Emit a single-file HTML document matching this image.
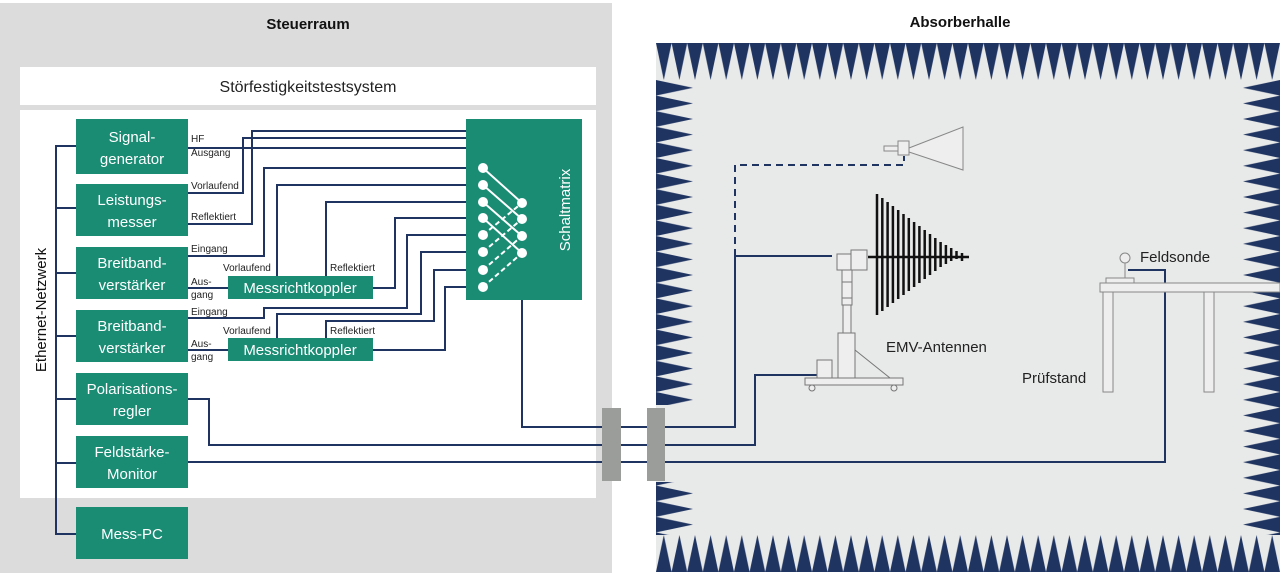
<!DOCTYPE html>
<html><head><meta charset="utf-8"><style>
html,body{margin:0;padding:0;background:#fff;}
svg{display:block;}
text{font-family:"Liberation Sans Narrow","Liberation Sans",sans-serif;}
</style></head><body>
<svg width="1280" height="577" viewBox="0 0 1280 577" xmlns="http://www.w3.org/2000/svg">
<defs>
<pattern id="pt" x="656" y="43" width="15.6" height="37" patternUnits="userSpaceOnUse"><polygon points="0,0 15.6,0 7.8,37" fill="#1f3461"/></pattern>
<pattern id="pb" x="656" y="535" width="15.6" height="37" patternUnits="userSpaceOnUse"><polygon points="0,37 7.8,0 15.6,37" fill="#1f3461"/></pattern>
<pattern id="pl" x="656" y="80" width="37" height="15.6" patternUnits="userSpaceOnUse"><polygon points="0,0 37,7.8 0,15.6" fill="#1f3461"/></pattern>
<pattern id="pr" x="1243" y="80" width="37" height="15.6" patternUnits="userSpaceOnUse"><polygon points="37,0 0,7.8 37,15.6" fill="#1f3461"/></pattern>
</defs>
<rect width="1280" height="577" fill="#fff"/>
<!-- Steuerraum -->
<rect x="0" y="3" width="612" height="570" fill="#dcdcdc"/>
<text x="308" y="29" font-size="15" font-weight="bold" text-anchor="middle" fill="#111">Steuerraum</text>
<rect x="20" y="67" width="576" height="38" fill="#fff"/>
<text x="308" y="92" font-size="16" text-anchor="middle" fill="#222">Störfestigkeitstestsystem</text>
<rect x="20" y="110" width="576" height="388" fill="#fff"/>

<!-- Absorberhalle -->
<text x="960" y="27" font-size="15" font-weight="bold" text-anchor="middle" fill="#111">Absorberhalle</text>
<rect x="656" y="43" width="624" height="529" fill="#e8e9e9"/>
<rect x="656" y="43" width="624" height="37" fill="url(#pt)"/>
<rect x="656" y="535" width="624" height="37" fill="url(#pb)"/>
<rect x="656" y="80" width="37" height="325" fill="url(#pl)"/>
<rect x="656" y="482" width="37" height="53" fill="url(#pl)"/>
<rect x="1243" y="80" width="37" height="455" fill="url(#pr)"/>

<!-- Ethernet -->
<g stroke="#1f3461" stroke-width="2" fill="none">
<path d="M76,146 H56 V534 H76 M56,208 H76 M56,273 H76 M56,336 H76 M56,399 H76 M56,463 H76"/>
</g>
<text transform="translate(46,310) rotate(-90)" font-size="15" text-anchor="middle" fill="#111">Ethernet-Netzwerk</text>

<!-- Wires -->
<g stroke="#1f3461" stroke-width="2" fill="none">
<path d="M188,148 H534 V203 H522"/>
<path d="M188,193 H243 V138 H542 V219 H522"/>
<path d="M188,224 H252 V131 H550 V236 H522"/>
<path d="M188,256 H264 V168 H483"/>
<path d="M277,276 V185 H483"/>
<path d="M326,276 V202 H483"/>
<path d="M373,288 H395 V218 H483"/>
<path d="M188,318 H264 V308 H407 V235 H483"/>
<path d="M277,338 V314 H421 V252 H483"/>
<path d="M326,338 V321 H434 V270 H483"/>
<path d="M373,350 H445 V287 H483"/>
<path d="M188,288 H228 M188,350 H228"/>
<path d="M522,253 V427 H735 V256 H832"/>
<path d="M188,399 H209 V445 H755 V375 H817"/>
<path d="M188,462 H1165 V270 H1128"/>
<path d="M735,256 V165 H904 V156" stroke-dasharray="7,5"/>
</g>

<!-- Green boxes -->
<g fill="#1a8c74">
<rect x="76" y="119" width="112" height="55"/>
<rect x="76" y="184" width="112" height="52"/>
<rect x="76" y="247" width="112" height="52"/>
<rect x="76" y="310" width="112" height="52"/>
<rect x="76" y="373" width="112" height="52"/>
<rect x="76" y="436" width="112" height="52"/>
<rect x="76" y="507" width="112" height="52"/>
<rect x="228" y="276" width="145" height="23"/>
<rect x="228" y="338" width="145" height="23"/>
<rect x="466" y="119" width="116" height="181"/>
</g>
<g fill="#fff" font-size="15" text-anchor="middle">
<text x="132" y="142">Signal-</text><text x="132" y="164">generator</text>
<text x="132" y="205">Leistungs-</text><text x="132" y="227">messer</text>
<text x="132" y="268">Breitband-</text><text x="132" y="290">verstärker</text>
<text x="132" y="331">Breitband-</text><text x="132" y="353">verstärker</text>
<text x="132" y="394">Polarisations-</text><text x="132" y="416">regler</text>
<text x="132" y="457">Feldstärke-</text><text x="132" y="479">Monitor</text>
<text x="132" y="539">Mess-PC</text>
<text x="300" y="293">Messrichtkoppler</text>
<text x="300" y="355">Messrichtkoppler</text>
<text transform="translate(570,210) rotate(-90)" text-anchor="middle">Schaltmatrix</text>
</g>
<g fill="#222" font-size="10">
<text x="191" y="142">HF</text><text x="191" y="156">Ausgang</text>
<text x="191" y="189">Vorlaufend</text><text x="191" y="220">Reflektiert</text>
<text x="191" y="252">Eingang</text>
<text x="191" y="285">Aus-</text><text x="191" y="298">gang</text>
<text x="223" y="271">Vorlaufend</text><text x="330" y="271">Reflektiert</text>
<text x="191" y="315">Eingang</text>
<text x="191" y="347">Aus-</text><text x="191" y="360">gang</text>
<text x="223" y="334">Vorlaufend</text><text x="330" y="334">Reflektiert</text>
</g>
<!-- matrix internals -->
<g stroke="#fff" stroke-width="2">
<line x1="483" y1="168" x2="522" y2="203"/><line x1="483" y1="185" x2="522" y2="219"/>
<line x1="483" y1="202" x2="522" y2="236"/><line x1="483" y1="218" x2="522" y2="253"/>
<g stroke-dasharray="5,3">
<line x1="483" y1="235" x2="522" y2="203"/><line x1="483" y1="252" x2="522" y2="219"/>
<line x1="483" y1="270" x2="522" y2="236"/><line x1="483" y1="287" x2="522" y2="253"/>
</g>
</g>
<g fill="#fff">
<circle cx="483" cy="168" r="5"/><circle cx="483" cy="185" r="5"/><circle cx="483" cy="202" r="5"/><circle cx="483" cy="218" r="5"/>
<circle cx="483" cy="235" r="5"/><circle cx="483" cy="252" r="5"/><circle cx="483" cy="270" r="5"/><circle cx="483" cy="287" r="5"/>
<circle cx="522" cy="203" r="5"/><circle cx="522" cy="219" r="5"/><circle cx="522" cy="236" r="5"/><circle cx="522" cy="253" r="5"/>
</g>

<!-- feedthroughs -->
<rect x="602" y="408" width="19" height="73" fill="#9a9d99"/>
<rect x="647" y="408" width="18" height="73" fill="#9a9d99"/>

<!-- horn antenna -->
<g stroke="#888" stroke-width="1" fill="#eee">
<rect x="884" y="146" width="14" height="5"/>
<rect x="898" y="141" width="11" height="14"/>
<polygon points="909,148 963,127 963,170 909,152"/>
</g>
<!-- log-periodic antenna -->
<g stroke="#111" stroke-width="2.5">
<line x1="868" y1="257" x2="969" y2="257"/>
<line x1="877" y1="194" x2="877" y2="315"/><line x1="882.3" y1="198" x2="882.3" y2="311"/>
<line x1="887.6" y1="202" x2="887.6" y2="307"/><line x1="892.9" y1="206" x2="892.9" y2="303"/>
<line x1="898.2" y1="210" x2="898.2" y2="299"/><line x1="903.5" y1="214" x2="903.5" y2="295"/>
<line x1="908.8" y1="218" x2="908.8" y2="291"/><line x1="914.1" y1="222" x2="914.1" y2="287"/>
<line x1="919.4" y1="226" x2="919.4" y2="283"/><line x1="924.7" y1="230" x2="924.7" y2="279"/>
<line x1="930" y1="234" x2="930" y2="275"/><line x1="935.3" y1="238" x2="935.3" y2="271"/>
<line x1="940.6" y1="242" x2="940.6" y2="267"/><line x1="945.9" y1="245" x2="945.9" y2="264"/>
<line x1="951.2" y1="248" x2="951.2" y2="261"/><line x1="956.5" y1="251" x2="956.5" y2="259"/>
<line x1="962" y1="253" x2="962" y2="261"/>
</g>
<g stroke="#777" stroke-width="1" fill="#eee">
<rect x="837" y="254" width="14" height="16"/>
<rect x="851" y="250" width="16" height="20"/>
<rect x="842" y="270" width="10" height="35"/>
<rect x="842" y="282" width="10" height="16"/>
<rect x="843" y="305" width="8" height="28"/>
<rect x="838" y="333" width="17" height="45"/>
<line x1="855" y1="350" x2="890" y2="378"/>
<rect x="817" y="360" width="15" height="18"/>
<rect x="805" y="378" width="98" height="7"/>
<circle cx="812" cy="388" r="3"/><circle cx="894" cy="388" r="3"/>
</g>
<text x="886" y="352" font-size="15" fill="#222">EMV-Antennen</text>

<!-- table & probe -->
<g stroke="#888" stroke-width="1" fill="#eee">
<rect x="1100" y="283" width="180" height="9"/>
<rect x="1103" y="292" width="10" height="100"/>
<rect x="1204" y="292" width="10" height="100"/>
<rect x="1106" y="278" width="28" height="5"/>
<line x1="1125" y1="263" x2="1125" y2="278"/>
<circle cx="1125" cy="258" r="5"/>
</g>
<text x="1140" y="262" font-size="15" fill="#222">Feldsonde</text>
<text x="1022" y="383" font-size="15" fill="#222">Prüfstand</text>
</svg>
</body></html>
